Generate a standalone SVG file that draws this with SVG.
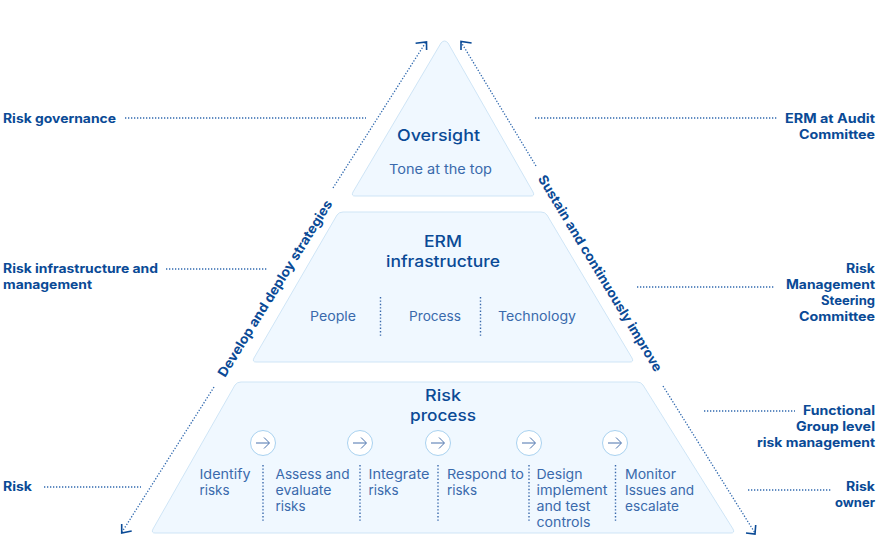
<svg xmlns="http://www.w3.org/2000/svg" width="879" height="545" viewBox="0 0 879 545">
<style>
text{font-family:"Inter","Liberation Sans",sans-serif}
.shape{fill:#f0f8ff;stroke:#cfe5f6;stroke-width:1;stroke-linejoin:round}
.side{font-size:12.6px;font-weight:700;fill:#0a4a96}
.title{font-size:16px;font-weight:500;fill:#0a4a96}
.body{font-size:13.4px;fill:#3a6aac}
.rot{font-size:13.2px;font-weight:700;fill:#0a4a96}
.dot{fill:none;stroke:#2f68ae;stroke-width:1.3;stroke-dasharray:1.3 1.7}
.sep{fill:none;stroke:#3a6aac;stroke-width:1.4;stroke-dasharray:1.4 2}
.head{fill:none;stroke:#0a4a96;stroke-width:1.6}
.circ{fill:#fff;stroke:#a9d2f0;stroke-width:1}
.arr{fill:none;stroke:#4a72ad;stroke-width:1}
</style>
<g id="connectors">
<path class="dot" d="M333 188L426 42"/><path class="head" d="M415.6 43.3L426.5 42L426.6 50"/>
<path class="dot" d="M536 166L461 42"/><path class="head" d="M471.6 43L461 41.5L461 50"/>
<path class="dot" d="M214 387L122 532"/><path class="head" d="M121.7 524L121.7 533L131.7 531"/>
<path class="dot" d="M663 386L755 533"/><path class="head" d="M746 533L755 534L755.7 525"/>
<path class="dot" d="M125 118H366"/><path class="dot" d="M535 118H778"/>
<path class="dot" d="M166 269H268"/><path class="dot" d="M637 287H775"/>
<path class="dot" d="M44 487H141"/><path class="dot" d="M704 411H795"/><path class="dot" d="M748 490H832"/>
</g>
<g id="oversight">
<path class="shape" d="M441 43Q444.500 39 448 43L533 192Q535 196 531 196H355Q351 196 353 192Z"/>
<text class="title" x="438.500" y="140.500" text-anchor="middle" textLength="83" lengthAdjust="spacingAndGlyphs">Oversight</text>
<text class="body" x="440.500" y="174" text-anchor="middle" textLength="103" lengthAdjust="spacingAndGlyphs">Tone at the top</text>
</g>
<g id="erm">
<path class="shape" d="M337 215Q339 212 343 212H541Q545 212 547 215L632 358Q634 362 630 362H256Q252 362 254 358Z"/>
<text class="title" x="443" y="247" text-anchor="middle" textLength="38" lengthAdjust="spacingAndGlyphs">ERM</text>
<text class="title" x="443" y="267" text-anchor="middle" textLength="114" lengthAdjust="spacingAndGlyphs">infrastructure</text>
<text class="body" x="333" y="321" text-anchor="middle" textLength="46" lengthAdjust="spacingAndGlyphs">People</text>
<text class="body" x="435" y="321" text-anchor="middle" textLength="52" lengthAdjust="spacingAndGlyphs">Process</text>
<text class="body" x="537" y="321" text-anchor="middle" textLength="78" lengthAdjust="spacingAndGlyphs">Technology</text>
<path class="sep" d="M380.500 297V336M480.500 297V336"/>
</g>
<g id="risk-process">
<path class="shape" d="M235 385Q237 382 241 382H637Q641 382 643 385L733 529Q735 533 731 533H155Q151 533 153 529Z"/>
<text class="title" x="443" y="401" text-anchor="middle" textLength="36" lengthAdjust="spacingAndGlyphs">Risk</text>
<text class="title" x="443" y="421" text-anchor="middle" textLength="66" lengthAdjust="spacingAndGlyphs">process</text>
<g id="step-1"><circle class="circ" cx="263" cy="443" r="12.500"/><path class="arr" d="M256 443H269M264 437.500L269.500 443L264 448.500"/>
<text class="body"><tspan x="199.500" y="479" textLength="51" lengthAdjust="spacingAndGlyphs">Identify</tspan><tspan x="199.500" y="495" textLength="30" lengthAdjust="spacingAndGlyphs">risks</tspan></text></g>
<g id="step-2"><circle class="circ" cx="360" cy="443" r="12.500"/><path class="arr" d="M353 443H366M361 437.500L366.500 443L361 448.500"/>
<text class="body"><tspan x="275.500" y="479" textLength="74" lengthAdjust="spacingAndGlyphs">Assess and</tspan><tspan x="275.500" y="495" textLength="56" lengthAdjust="spacingAndGlyphs">evaluate</tspan><tspan x="275.500" y="511" textLength="30" lengthAdjust="spacingAndGlyphs">risks</tspan></text></g>
<g id="step-3"><circle class="circ" cx="438" cy="443" r="12.500"/><path class="arr" d="M431 443H444M439 437.500L444.500 443L439 448.500"/>
<text class="body"><tspan x="368.500" y="479" textLength="61" lengthAdjust="spacingAndGlyphs">Integrate</tspan><tspan x="368.500" y="495" textLength="30" lengthAdjust="spacingAndGlyphs">risks</tspan></text></g>
<g id="step-4"><circle class="circ" cx="529" cy="443" r="12.500"/><path class="arr" d="M522 443H535M530 437.500L535.500 443L530 448.500"/>
<text class="body"><tspan x="447" y="479" textLength="77" lengthAdjust="spacingAndGlyphs">Respond to</tspan><tspan x="447" y="495" textLength="30" lengthAdjust="spacingAndGlyphs">risks</tspan></text></g>
<g id="step-5"><circle class="circ" cx="615" cy="443" r="12.500"/><path class="arr" d="M608 443H621M616 437.500L621.500 443L616 448.500"/>
<text class="body"><tspan x="536.500" y="479" textLength="46" lengthAdjust="spacingAndGlyphs">Design</tspan><tspan x="536.500" y="495" textLength="71" lengthAdjust="spacingAndGlyphs">implement</tspan><tspan x="536.500" y="511" textLength="54" lengthAdjust="spacingAndGlyphs">and test</tspan><tspan x="536.500" y="527" textLength="54" lengthAdjust="spacingAndGlyphs">controls</tspan></text></g>
<g id="step-6"><text class="body"><tspan x="625" y="479" textLength="51" lengthAdjust="spacingAndGlyphs">Monitor</tspan><tspan x="625" y="495" textLength="69" lengthAdjust="spacingAndGlyphs">Issues and</tspan><tspan x="625" y="511" textLength="54" lengthAdjust="spacingAndGlyphs">escalate</tspan></text></g>
<path class="sep" d="M263 465V522M360 465V522M438 465V522M529 465V522M615.500 465V522"/>
</g>
<g id="rotated-labels">
<text class="rot" transform="translate(225 378) rotate(-58.300)" textLength="205" lengthAdjust="spacingAndGlyphs">Develop and deploy strategies</text>
<text class="rot" transform="translate(537.500 178.500) rotate(58.800)" textLength="227" lengthAdjust="spacingAndGlyphs">Sustain and continuously improve</text>
</g>
<g id="left-labels">
<text class="side" x="3" y="123" textLength="113" lengthAdjust="spacingAndGlyphs">Risk governance</text>
<text class="side"><tspan x="3" y="273" textLength="155" lengthAdjust="spacingAndGlyphs">Risk infrastructure and</tspan><tspan x="3" y="289" textLength="89" lengthAdjust="spacingAndGlyphs">management</tspan></text>
<text class="side" x="3" y="491" textLength="29" lengthAdjust="spacingAndGlyphs">Risk</text>
</g>
<g id="right-labels" text-anchor="end">
<text class="side"><tspan x="875" y="123" textLength="90" lengthAdjust="spacingAndGlyphs">ERM at Audit</tspan><tspan x="875" y="139" textLength="76" lengthAdjust="spacingAndGlyphs">Committee</tspan></text>
<text class="side"><tspan x="875" y="273" textLength="29" lengthAdjust="spacingAndGlyphs">Risk</tspan><tspan x="875" y="289" textLength="89" lengthAdjust="spacingAndGlyphs">Management</tspan><tspan x="875" y="305" textLength="54" lengthAdjust="spacingAndGlyphs">Steering</tspan><tspan x="875" y="321" textLength="76" lengthAdjust="spacingAndGlyphs">Committee</tspan></text>
<text class="side"><tspan x="875" y="415" textLength="72" lengthAdjust="spacingAndGlyphs">Functional</tspan><tspan x="875" y="431" textLength="79" lengthAdjust="spacingAndGlyphs">Group level</tspan><tspan x="875" y="447" textLength="118" lengthAdjust="spacingAndGlyphs">risk management</tspan></text>
<text class="side"><tspan x="875" y="491" textLength="29" lengthAdjust="spacingAndGlyphs">Risk</tspan><tspan x="875" y="507" textLength="40" lengthAdjust="spacingAndGlyphs">owner</tspan></text>
</g>
</svg>
